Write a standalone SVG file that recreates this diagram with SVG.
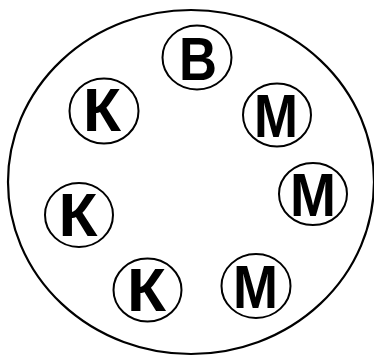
<svg xmlns="http://www.w3.org/2000/svg" width="374" height="356" viewBox="0 0 374 356">
<style>
.outer{fill:none;stroke:#000;stroke-width:2.2}
.n{fill:#fff;stroke:#000;stroke-width:2}
.t{font-family:"Liberation Sans",Arial,sans-serif;font-weight:bold;font-size:62px;fill:#000;text-anchor:middle}
</style>
<rect width="374" height="356" fill="#fff"/>
<ellipse class="outer" cx="191" cy="182" rx="183" ry="172"/>
<g id="connectors"/>
<g id="nB"><ellipse class="n" cx="197" cy="57.5" rx="34.5" ry="32"/><text class="t" x="198" y="80" textLength="38" lengthAdjust="spacingAndGlyphs">В</text></g>
<g id="nK1"><ellipse class="n" cx="104" cy="111" rx="34.5" ry="32.5"/><text class="t" x="102" y="131" textLength="38" lengthAdjust="spacingAndGlyphs">К</text></g>
<g id="nM1"><ellipse class="n" cx="277" cy="115" rx="34" ry="31.5"/><text class="t" x="276" y="137" textLength="44" lengthAdjust="spacingAndGlyphs">М</text></g>
<g id="nM2"><ellipse class="n" cx="313" cy="194" rx="34" ry="31"/><text class="t" x="313" y="216" textLength="46" lengthAdjust="spacingAndGlyphs">М</text></g>
<g id="nK2"><ellipse class="n" cx="79" cy="215" rx="34" ry="32"/><text class="t" x="78" y="236" textLength="39" lengthAdjust="spacingAndGlyphs">К</text></g>
<g id="nK3"><ellipse class="n" cx="147.5" cy="290" rx="34" ry="31.5"/><text class="t" x="146.5" y="311" textLength="39" lengthAdjust="spacingAndGlyphs">К</text></g>
<g id="nM3"><ellipse class="n" cx="256" cy="286" rx="34.5" ry="32"/><text class="t" x="255.5" y="308" textLength="45" lengthAdjust="spacingAndGlyphs">М</text></g>
</svg>
